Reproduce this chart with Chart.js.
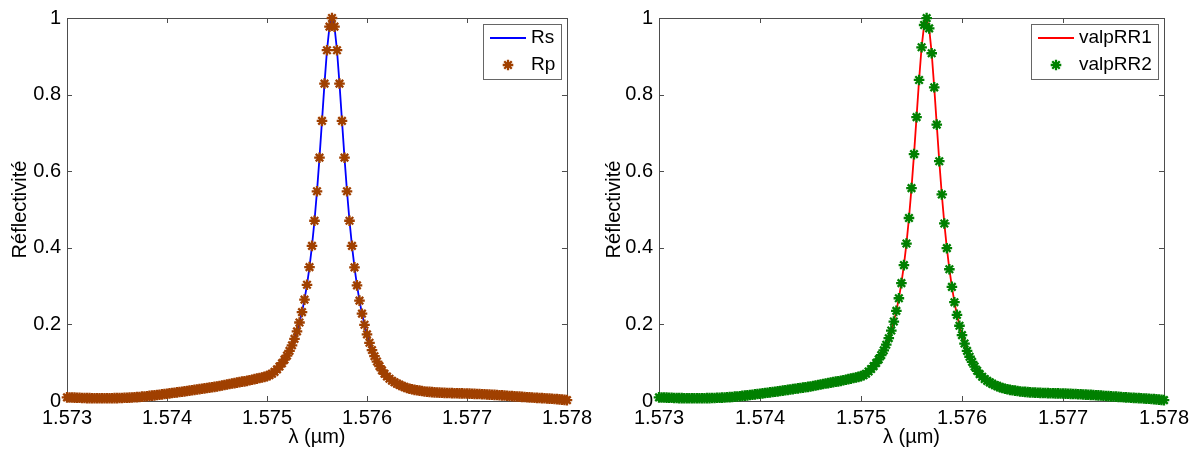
<!DOCTYPE html>
<html>
<head>
<meta charset="utf-8">
<script src="https://cdn.jsdelivr.net/npm/chart.js@4.4.0/dist/chart.umd.min.js"></script>
<style>
    html, body { margin: 0; padding: 0; background: #fff; }
    #wrap { position: relative; width: 1195px; height: 452px; }
    canvas { position: absolute; top: 0; }
    #leftChart { left: 0; }
    #rightChart { left: 597px; }
</style>
</head>
<body>
<div id="wrap">
    <canvas id="leftChart" width="597" height="452"></canvas>
    <canvas id="rightChart" width="598" height="452"></canvas>
</div>
<script>
// wavelength samples (µm)
var wavelength = [
    1.573, 1.573025, 1.57305, 1.573075, 1.5731, 1.573125, 1.57315, 1.573175, 1.5732, 1.573225,
    1.57325, 1.573275, 1.5733, 1.573325, 1.57335, 1.573375, 1.5734, 1.573425, 1.57345, 1.573475,
    1.5735, 1.573525, 1.57355, 1.573575, 1.5736, 1.573625, 1.57365, 1.573675, 1.5737, 1.573725,
    1.57375, 1.573775, 1.5738, 1.573825, 1.57385, 1.573875, 1.5739, 1.573925, 1.57395, 1.573975,
    1.574, 1.574025, 1.57405, 1.574075, 1.5741, 1.574125, 1.57415, 1.574175, 1.5742, 1.574225,
    1.57425, 1.574275, 1.5743, 1.574325, 1.57435, 1.574375, 1.5744, 1.574425, 1.57445, 1.574475,
    1.5745, 1.574525, 1.57455, 1.574575, 1.5746, 1.574625, 1.57465, 1.574675, 1.5747, 1.574725,
    1.57475, 1.574775, 1.5748, 1.574825, 1.57485, 1.574875, 1.5749, 1.574925, 1.57495, 1.574975,
    1.575, 1.575025, 1.57505, 1.575075, 1.5751, 1.575125, 1.57515, 1.575175, 1.5752, 1.575225,
    1.57525, 1.575275, 1.5753, 1.575325, 1.57535, 1.575375, 1.5754, 1.575425, 1.57545, 1.575475,
    1.5755, 1.575525, 1.57555, 1.575575, 1.5756, 1.575625, 1.57565, 1.575675, 1.5757, 1.575725,
    1.57575, 1.575775, 1.5758, 1.575825, 1.57585, 1.575875, 1.5759, 1.575925, 1.57595, 1.575975,
    1.576, 1.576025, 1.57605, 1.576075, 1.5761, 1.576125, 1.57615, 1.576175, 1.5762, 1.576225,
    1.57625, 1.576275, 1.5763, 1.576325, 1.57635, 1.576375, 1.5764, 1.576425, 1.57645, 1.576475,
    1.5765, 1.576525, 1.57655, 1.576575, 1.5766, 1.576625, 1.57665, 1.576675, 1.5767, 1.576725,
    1.57675, 1.576775, 1.5768, 1.576825, 1.57685, 1.576875, 1.5769, 1.576925, 1.57695, 1.576975,
    1.577, 1.577025, 1.57705, 1.577075, 1.5771, 1.577125, 1.57715, 1.577175, 1.5772, 1.577225,
    1.57725, 1.577275, 1.5773, 1.577325, 1.57735, 1.577375, 1.5774, 1.577425, 1.57745, 1.577475,
    1.5775, 1.577525, 1.57755, 1.577575, 1.5776, 1.577625, 1.57765, 1.577675, 1.5777, 1.577725,
    1.57775, 1.577775, 1.5778, 1.577825, 1.57785, 1.577875, 1.5779, 1.577925, 1.57795, 1.577975,
    1.578
];

// left plot: Rs (line) and Rp (stars) lie on top of each other
var rs = [
    0.0095, 0.0093, 0.009, 0.0088, 0.0085, 0.0083, 0.008, 0.0078, 0.0075, 0.0074,
    0.0072, 0.0071, 0.007, 0.007, 0.007, 0.007, 0.007, 0.0071, 0.0072, 0.0074,
    0.0075, 0.0078, 0.008, 0.0083, 0.0085, 0.0089, 0.0093, 0.0096, 0.01, 0.0106,
    0.0113, 0.0119, 0.0125, 0.0133, 0.014, 0.0148, 0.0155, 0.0164, 0.0173, 0.0181,
    0.019, 0.0199, 0.0208, 0.0216, 0.0225, 0.0234, 0.0243, 0.0251, 0.026, 0.027,
    0.028, 0.029, 0.03, 0.031, 0.032, 0.033, 0.034, 0.035, 0.036, 0.037,
    0.038, 0.0393, 0.0405, 0.0418, 0.043, 0.0443, 0.0455, 0.0468, 0.048, 0.0493,
    0.0505, 0.0513, 0.0525, 0.054, 0.0555, 0.057, 0.0585, 0.06, 0.0615, 0.063,
    0.065, 0.0675, 0.071, 0.076, 0.0825, 0.09, 0.0985, 0.108, 0.1185, 0.131,
    0.1454, 0.1622, 0.1818, 0.2049, 0.2322, 0.2647, 0.3034, 0.3497, 0.405, 0.4706,
    0.5475, 0.6353, 0.7314, 0.8288, 0.9159, 0.9776, 1, 0.9776, 0.9159, 0.8288,
    0.7314, 0.6353, 0.5475, 0.4706, 0.405, 0.349, 0.302, 0.262, 0.228, 0.199,
    0.174, 0.152, 0.133, 0.117, 0.103, 0.091, 0.08, 0.071, 0.064, 0.058,
    0.053, 0.049, 0.045, 0.042, 0.039, 0.0365, 0.034, 0.032, 0.0305, 0.029,
    0.028, 0.027, 0.026, 0.025, 0.0243, 0.0237, 0.0231, 0.0226, 0.0222, 0.0218,
    0.0215, 0.0212, 0.021, 0.0208, 0.0206, 0.0204, 0.0202, 0.02, 0.0198, 0.0196,
    0.0194, 0.0192, 0.019, 0.0187, 0.0184, 0.0181, 0.0178, 0.0175, 0.0171, 0.0167,
    0.0163, 0.0159, 0.0155, 0.0151, 0.0147, 0.0142, 0.0137, 0.0132, 0.0127, 0.0122,
    0.0118, 0.0113, 0.0108, 0.0103, 0.0098, 0.0094, 0.009, 0.0086, 0.0082, 0.0078,
    0.0074, 0.007, 0.0066, 0.0062, 0.0058, 0.0053, 0.0048, 0.0042, 0.0036, 0.0029,
    0.0022
];
var rp = rs.slice();

// right plot: valpRR1 (line) and valpRR2 (stars)
var valpRR1 = [
    0.0095, 0.0093, 0.009, 0.0088, 0.0085, 0.0083, 0.008, 0.0078, 0.0075, 0.0074,
    0.0072, 0.0071, 0.007, 0.007, 0.007, 0.007, 0.007, 0.0071, 0.0072, 0.0074,
    0.0075, 0.0078, 0.008, 0.0083, 0.0085, 0.0089, 0.0093, 0.0096, 0.01, 0.0106,
    0.0113, 0.0119, 0.0125, 0.0133, 0.014, 0.0148, 0.0155, 0.0164, 0.0173, 0.0181,
    0.019, 0.0199, 0.0208, 0.0216, 0.0225, 0.0234, 0.0243, 0.0251, 0.026, 0.027,
    0.028, 0.029, 0.03, 0.031, 0.032, 0.033, 0.034, 0.035, 0.036, 0.037,
    0.038, 0.0393, 0.0405, 0.0418, 0.043, 0.0443, 0.0455, 0.0468, 0.048, 0.0493,
    0.0505, 0.0513, 0.0525, 0.054, 0.0555, 0.057, 0.0585, 0.06, 0.0615, 0.063,
    0.065, 0.0672, 0.0713, 0.077, 0.0835, 0.091, 0.0991, 0.1087, 0.1197, 0.1323,
    0.147, 0.164, 0.184, 0.2075, 0.2352, 0.2683, 0.3077, 0.3548, 0.4111, 0.4778,
    0.5558, 0.6447, 0.7412, 0.8382, 0.9235, 0.9817, 0.9998, 0.973, 0.908, 0.819,
    0.7216, 0.6261, 0.5393, 0.4636, 0.399, 0.344, 0.298, 0.258, 0.225, 0.1965,
    0.172, 0.15, 0.131, 0.1155, 0.102, 0.09, 0.079, 0.0703, 0.0634, 0.0575,
    0.0525, 0.0486, 0.0447, 0.0417, 0.0387, 0.0362, 0.0338, 0.032, 0.0305, 0.029,
    0.028, 0.027, 0.026, 0.025, 0.0243, 0.0237, 0.0231, 0.0226, 0.0222, 0.0218,
    0.0215, 0.0212, 0.021, 0.0208, 0.0206, 0.0204, 0.0202, 0.02, 0.0198, 0.0196,
    0.0194, 0.0192, 0.019, 0.0187, 0.0184, 0.0181, 0.0178, 0.0175, 0.0171, 0.0167,
    0.0163, 0.0159, 0.0155, 0.0151, 0.0147, 0.0142, 0.0137, 0.0132, 0.0127, 0.0122,
    0.0118, 0.0113, 0.0108, 0.0103, 0.0098, 0.0094, 0.009, 0.0086, 0.0082, 0.0078,
    0.0074, 0.007, 0.0066, 0.0062, 0.0058, 0.0053, 0.0048, 0.0042, 0.0036, 0.0029,
    0.0022
];
var valpRR2 = valpRR1.slice();

var xTicks = [1.573, 1.574, 1.575, 1.576, 1.577, 1.578];
var xTickLabels = ['1.573', '1.574', '1.575', '1.576', '1.577', '1.578'];
var yTicks = [0, 0.2, 0.4, 0.6, 0.8, 1];
var yTickLabels = ['0', '0.2', '0.4', '0.6', '0.8', '1'];

var fontFamily = '"Liberation Sans", Arial, Helvetica, sans-serif';
var axisColor = '#4d4d4d';

function toPoints(values) {
    return wavelength.map(function(w, i) { return { x: w, y: values[i] }; });
}

// matlab style box with inward ticks, plus the framed legend in the top right corner
var matlabAxes = {
    id: 'matlabAxes',
    beforeDatasetsDraw: function(chart) {
        var ctx = chart.ctx, a = chart.chartArea;
        var xs = chart.scales.x, ys = chart.scales.y;
        ctx.save();
        ctx.strokeStyle = axisColor;
        ctx.lineWidth = 1;
        ctx.strokeRect(Math.round(a.left) + 0.5, Math.round(a.top) + 0.5,
            Math.round(a.right - a.left), Math.round(a.bottom - a.top));
        ctx.beginPath();
        xs.ticks.forEach(function(t) {
            var px = Math.round(xs.getPixelForValue(t.value)) + 0.5;
            ctx.moveTo(px, a.bottom); ctx.lineTo(px, a.bottom - 5);
            ctx.moveTo(px, a.top); ctx.lineTo(px, a.top + 5);
        });
        ys.ticks.forEach(function(t) {
            var py = Math.round(ys.getPixelForValue(t.value)) + 0.5;
            ctx.moveTo(a.left, py); ctx.lineTo(a.left + 5, py);
            ctx.moveTo(a.right, py); ctx.lineTo(a.right - 5, py);
        });
        ctx.stroke();
        ctx.restore();
    },
    afterDraw: function(chart) {
        var ctx = chart.ctx, a = chart.chartArea;
        var ds = chart.data.datasets;
        ctx.save();
        ctx.font = '19px ' + fontFamily;
        var textW = 0;
        ds.forEach(function(d) { textW = Math.max(textW, ctx.measureText(d.label).width); });
        var w = Math.round(7 + 36 + 5 + textW + 6), h = 55;
        var x0 = Math.round(a.right - 6 - w), y0 = Math.round(a.top + 6);
        ctx.fillStyle = '#fff';
        ctx.fillRect(x0, y0, w, h);
        ctx.strokeStyle = '#666';
        ctx.lineWidth = 1;
        ctx.strokeRect(x0 + 0.5, y0 + 0.5, w, h);
        ds.forEach(function(d, i) {
            var cy = y0 + 14 + i * 27;
            if (d.showLine !== false) {
                ctx.strokeStyle = d.borderColor;
                ctx.lineWidth = d.borderWidth;
                ctx.beginPath();
                ctx.moveTo(x0 + 7, cy);
                ctx.lineTo(x0 + 43, cy);
                ctx.stroke();
            } else {
                ctx.strokeStyle = d.pointBorderColor;
                ctx.fillStyle = d.pointBorderColor;
                ctx.lineWidth = d.pointBorderWidth;
                Chart.helpers.drawPoint(ctx, {
                    pointStyle: 'star', radius: d.pointRadius,
                    borderWidth: d.pointBorderWidth, rotation: 0
                }, x0 + 25, cy);
            }
            ctx.fillStyle = '#000';
            ctx.textBaseline = 'middle';
            ctx.textAlign = 'left';
            ctx.fillText(d.label, x0 + 48, cy);
        });
        ctx.restore();
    }
};

function buildScales(yWidth, yTitlePad) {
    return {
        x: {
            type: 'linear',
            min: 1.573,
            max: 1.578,
            afterBuildTicks: function(s) { s.ticks = xTicks.map(function(v) { return { value: v }; }); },
            afterFit: function(s) { s.height = 51; },
            grid: { display: false, drawTicks: false },
            border: { display: false },
            ticks: {
                autoSkip: false,
                maxRotation: 0,
                padding: 5,
                color: '#000',
                font: { family: fontFamily, size: 20 },
                callback: function(v, i) { return xTickLabels[i]; }
            },
            title: {
                display: true,
                text: 'λ (µm)',
                color: '#000',
                font: { family: fontFamily, size: 20, lineHeight: 1.2 },
                padding: { top: 3, bottom: 3 }
            }
        },
        y: {
            type: 'linear',
            min: 0,
            max: 1,
            afterBuildTicks: function(s) { s.ticks = yTicks.map(function(v) { return { value: v }; }); },
            afterFit: function(s) { s.width = yWidth; },
            grid: { display: false, drawTicks: false },
            border: { display: false },
            ticks: {
                padding: 6,
                color: '#000',
                font: { family: fontFamily, size: 20 },
                callback: function(v, i) { return yTickLabels[i]; }
            },
            title: {
                display: true,
                text: 'Réflectivité',
                color: '#000',
                font: { family: fontFamily, size: 20, lineHeight: 1.2 },
                padding: { top: yTitlePad, bottom: yTitlePad }
            }
        }
    };
}

function makeChart(id, lineLabel, lineValues, lineColor, starLabel, starValues, starColor, pad, yWidth, yTitlePad) {
    var ctx = document.getElementById(id).getContext('2d');
    return new Chart(ctx, {
        type: 'line',
        data: {
            datasets: [{
                label: lineLabel,
                data: toPoints(lineValues),
                borderColor: lineColor,
                borderWidth: 1.8,
                pointRadius: 0,
                tension: 0,
                fill: false,
                clip: false,
                order: 2
            }, {
                label: starLabel,
                data: toPoints(starValues),
                showLine: false,
                pointStyle: 'star',
                pointRadius: 5.3,
                pointBorderWidth: 2.3,
                pointBorderColor: starColor,
                pointBackgroundColor: starColor,
                borderColor: starColor,
                clip: false,
                order: 1
            }]
        },
        options: {
            responsive: false,
            animation: false,
            events: [],
            layout: { padding: pad },
            plugins: {
                legend: { display: false },
                tooltip: { enabled: false }
            },
            scales: buildScales(yWidth, yTitlePad)
        },
        plugins: [matlabAxes]
    });
}

document.addEventListener('DOMContentLoaded', function() {
    makeChart('leftChart', 'Rs', rs, '#0000ff', 'Rp', rp, '#a04000',
        { left: 0, right: 27, top: 16, bottom: 0 }, 67, 8);
    makeChart('rightChart', 'valpRR1', valpRR1, '#ff0000', 'valpRR2', valpRR2, '#008000',
        { left: 0, right: 31, top: 17, bottom: 0 }, 62, 5);
});
</script>
</body>
</html>
